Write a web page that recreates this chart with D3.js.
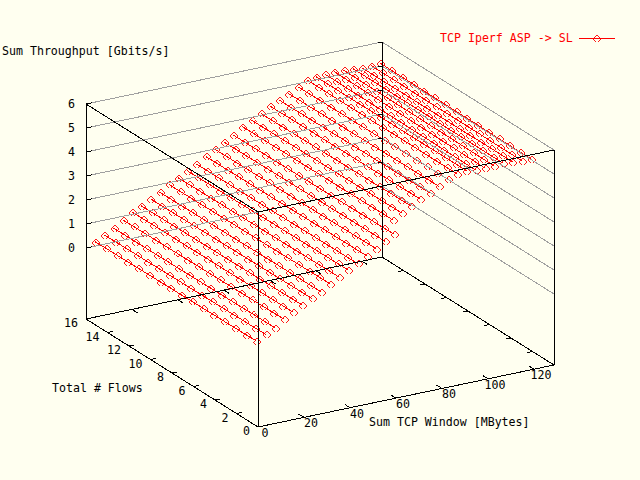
<!DOCTYPE html>
<html>
<head>
<meta charset="utf-8">
<title>TCP Iperf ASP -> SL</title>
<style>
  html, body { margin: 0; padding: 0; background: #fffff0; }
  text { font-family: "DejaVu Sans Mono", monospace; font-size: 11.6px; fill: #000; }
</style>
</head>
<body>
<script src="https://d3js.org/d3.v7.min.js"></script>
<script>
var windowTicks = [0, 20, 40, 60, 80, 100, 120];
var flowTicks = [0, 2, 4, 6, 8, 10, 12, 14, 16];
var rateTicks = [0, 1, 2, 3, 4, 5, 6];
var flows = [1, 2, 3, 4, 5, 6, 7, 8, 9, 10, 11, 12, 13, 14, 15, 16];
var windows = [4, 8, 12, 16, 20, 24, 28, 32, 36, 40, 44, 48, 52, 56, 60, 64,
               68, 72, 76, 80, 84, 88, 92, 96, 100, 104, 108, 112, 116, 120, 124, 128];

// one row per window size, one value per flow count (null = no sample)
var throughput = [
  [0.26,0.25,0.25,0.24,0.24,0.23,0.23,0.22,0.22,0.21,0.21,0.20,0.20,0.19,0.19,0.18],
  [0.46,0.45,0.45,0.44,0.44,0.43,0.43,0.42,0.42,0.41,0.41,0.40,0.40,0.39,0.39,0.38],
  [0.66,0.65,0.65,0.64,0.64,0.63,0.63,0.62,0.62,0.61,0.61,0.60,0.60,0.59,0.59,0.58],
  [0.93,0.92,0.92,0.91,0.91,0.90,0.90,0.89,0.89,0.88,0.88,0.87,0.87,0.86,0.86,0.85],
  [1.14,1.14,1.13,1.13,1.13,1.13,1.12,1.12,1.12,1.12,1.11,1.11,1.11,1.11,1.10,1.10],
  [1.35,1.35,1.34,1.34,1.33,1.33,1.32,1.32,1.31,1.31,1.30,1.30,1.29,1.29,1.28,1.28],
  [1.56,1.56,1.55,1.55,1.54,1.54,1.53,1.53,1.52,1.52,1.51,1.51,1.50,1.50,1.49,1.49],
  [1.76,1.75,1.75,1.74,1.74,1.73,1.73,1.72,1.72,1.71,1.71,1.70,1.70,1.69,1.69,1.68],
  [2.00,2.00,1.99,1.99,1.98,1.98,1.97,1.97,1.96,1.96,1.95,1.95,1.94,1.94,1.93,1.93],
  [2.20,2.20,2.19,2.19,2.18,2.18,2.17,2.17,2.16,2.16,2.15,2.15,2.14,2.14,2.13,2.13],
  [2.41,2.41,2.40,2.40,2.39,2.39,2.38,2.38,2.37,2.37,2.36,2.36,2.35,2.35,2.34,2.34],
  [2.61,2.60,2.60,2.59,2.59,2.58,2.58,2.57,2.57,2.56,2.56,2.55,2.55,2.54,2.54,2.53],
  [2.85,2.84,2.84,2.83,2.83,2.82,2.82,2.81,2.81,2.80,2.80,2.79,2.79,2.78,2.78,2.77],
  [3.07,3.06,3.06,3.05,3.05,3.04,3.04,3.03,3.03,3.02,3.02,3.01,3.01,3.00,3.00,2.99],
  [3.29,3.28,3.28,3.27,3.27,3.26,3.26,3.25,3.25,3.24,3.24,3.23,3.23,3.22,3.22,3.21],
  [3.50,3.49,3.49,3.48,3.48,3.47,3.47,3.46,3.46,3.45,3.45,3.44,3.44,3.43,3.43,3.42],
  [null,3.74,3.74,3.73,3.73,3.73,3.72,3.72,3.72,3.71,3.71,3.71,3.70,3.70,3.70,3.69],
  [null,3.94,3.94,3.93,3.93,3.92,3.92,3.91,3.91,3.91,3.90,3.90,3.89,3.89,3.88,3.88],
  [null,4.16,4.15,4.15,4.14,4.13,4.13,4.12,4.12,4.11,4.11,4.10,4.10,4.09,4.09,4.08],
  [null,4.36,4.36,4.35,4.35,4.35,4.34,4.34,4.34,4.33,4.33,4.33,4.32,4.32,4.31,4.31],
  [null,4.55,4.54,4.54,4.53,4.53,4.52,4.52,4.51,4.51,4.50,4.50,4.49,4.49,4.48,4.48],
  [null,4.74,4.74,4.73,4.73,4.72,4.72,4.71,4.71,4.70,4.70,4.69,4.69,4.68,4.68,4.67],
  [null,4.95,4.94,4.94,4.93,4.93,4.92,4.92,4.91,4.91,4.90,4.90,4.89,4.89,4.88,4.88],
  [null,5.09,5.09,5.09,5.09,5.09,5.09,5.09,5.08,5.08,5.08,5.08,5.08,5.08,5.08,5.08],
  [null,5.15,5.15,5.15,5.15,5.14,5.14,5.14,5.14,5.14,5.14,5.13,5.13,5.13,5.13,5.13],
  [null,5.10,5.10,5.11,5.11,5.12,5.12,5.12,5.13,5.13,5.13,5.14,5.14,5.14,5.15,5.15],
  [null,5.10,5.11,5.11,5.12,5.12,5.13,5.14,5.14,5.15,5.15,5.16,5.16,5.17,5.17,5.18],
  [null,5.11,5.11,5.12,5.12,5.13,5.13,5.13,5.14,5.14,5.14,5.15,5.15,5.15,5.16,5.16],
  [null,5.14,5.14,5.14,5.14,5.14,5.14,5.14,5.15,5.15,5.15,5.15,5.15,5.15,5.15,5.15],
  [null,5.12,5.12,5.12,5.12,5.11,5.11,5.11,5.11,5.11,5.11,5.11,5.10,5.10,5.10,5.10],
  [null,5.09,5.09,5.09,5.09,5.10,5.10,5.10,5.10,5.10,5.10,5.10,5.11,5.11,5.11,5.11],
  [null,5.08,5.08,5.09,5.09,5.09,5.10,5.10,5.10,5.11,5.11,5.11,5.12,5.12,5.12,5.13]
];

var w = 640, h = 480;
var xMax = 128.7, yMax = 16, zMin = -2.958, zMax = 6;

var svg = d3.select("body").append("svg")
  .attr("width", w).attr("height", h)
  .style("display", "block")
  .style("background", "#fffff0");

// the three data axes each move the point along their own screen direction
var xToX = d3.scaleLinear().domain([0, xMax]).range([0, 296]);
var xToY = d3.scaleLinear().domain([0, xMax]).range([0, -62]);
var yToX = d3.scaleLinear().domain([0, yMax]).range([0, -172]);
var yToY = d3.scaleLinear().domain([0, yMax]).range([0, -108]);
var zToY = d3.scaleLinear().domain([zMin, zMax]).range([0, -215]);

function px(x, y) { return 258 + xToX(x) + yToX(y); }
function py(x, y, z) { return 427 + xToY(x) + yToY(y) + zToY(z); }

function seg(g, a, b, colour) {
  g.append("line")
    .attr("x1", px(a[0], a[1])).attr("y1", py(a[0], a[1], a[2]))
    .attr("x2", px(b[0], b[1])).attr("y2", py(b[0], b[1], b[2]))
    .attr("stroke", colour).attr("stroke-width", 1)
    .attr("shape-rendering", "crispEdges");
}

// one red line per window size
var line = d3.line()
  .defined(function(d) { return d.z !== null; })
  .x(function(d) { return px(d.x, d.y); })
  .y(function(d) { return py(d.x, d.y, d.z); });

var plot = svg.append("g");
var diamond = "M0,-3.5L3.5,0L0,3.5L-3.5,0Z";

windows.forEach(function(win, i) {
  var pts = flows.map(function(f, j) { return { x: win, y: f, z: throughput[i][j] }; });
  plot.append("path")
    .attr("d", line(pts))
    .attr("fill", "none").attr("stroke", "#ff0000")
    .attr("shape-rendering", "crispEdges");
  plot.selectAll(null)
    .data(pts.filter(function(d) { return d.z !== null; }))
    .enter().append("path")
    .attr("d", diamond)
    .attr("transform", function(d) {
      return "translate(" + (Math.round(px(d.x, d.y)) + 0.5) + "," + (Math.round(py(d.x, d.y, d.z)) + 0.5) + ")";
    })
    .attr("fill", "none").attr("stroke", "#ff0000").attr("stroke-width", 0.9)
    .attr("shape-rendering", "crispEdges");
});

// grey grid on the two back walls, it sits over the surface in the original
var grid = svg.append("g");
rateTicks.forEach(function(z) {
  seg(grid, [0, yMax, z], [xMax, yMax, z], "#a0a0a0");
  seg(grid, [xMax, yMax, z], [xMax, 0, z], "#a0a0a0");
});

// black box
var box = svg.append("g");
seg(box, [0, 0, zMin], [xMax, 0, zMin], "#000");
seg(box, [0, 0, zMin], [0, yMax, zMin], "#000");
seg(box, [xMax, 0, zMin], [xMax, yMax, zMin], "#000");
seg(box, [0, yMax, zMin], [xMax, yMax, zMin], "#000");
seg(box, [0, yMax, zMax], [0, 0, zMax], "#000");
seg(box, [0, 0, zMax], [xMax, 0, zMax], "#000");
[[0, 0], [xMax, 0], [0, yMax], [xMax, yMax]].forEach(function(c) {
  seg(box, [c[0], c[1], zMin], [c[0], c[1], zMax], "#000");
});

// ticks
windowTicks.forEach(function(x) {
  seg(box, [x, 0, zMin], [x, 0.5, zMin], "#000");
  seg(box, [x, yMax, zMin], [x, yMax - 0.5, zMin], "#000");
});
flowTicks.forEach(function(y) {
  seg(box, [0, y, zMin], [2.2, y, zMin], "#000");
  seg(box, [xMax, y, zMin], [xMax - 2.2, y, zMin], "#000");
});
rateTicks.forEach(function(z) {
  seg(box, [0, yMax, z], [2.5, yMax, z], "#000");
  seg(box, [xMax, yMax, z], [xMax - 1.5, yMax, z], "#000");
});

// tick labels
svg.append("g").selectAll("text").data(windowTicks).enter().append("text")
  .attr("x", function(d) { return px(d, 0) + 7; })
  .attr("y", function(d) { return py(d, 0, zMin) + 10; })
  .attr("text-anchor", "middle").text(function(d) { return d; });
svg.append("g").selectAll("text").data(flowTicks).enter().append("text")
  .attr("x", function(d) { return px(0, d) - 8; })
  .attr("y", function(d) { return py(0, d, zMin) + 8; })
  .attr("text-anchor", "end").text(function(d) { return d; });
svg.append("g").selectAll("text").data(rateTicks).enter().append("text")
  .attr("x", 75)
  .attr("y", function(d) { return py(0, yMax, d) + 4; })
  .attr("text-anchor", "end").text(function(d) { return d; });

// axis titles
svg.append("text").attr("x", 2).attr("y", 55).text("Sum Throughput [Gbits/s]");
svg.append("text").attr("x", 52).attr("y", 392).text("Total # Flows");
svg.append("text").attr("x", 369).attr("y", 426).text("Sum TCP Window [MBytes]");

// key
svg.append("text").attr("x", 440).attr("y", 42).style("fill", "#ff0000").text("TCP Iperf ASP -> SL");
svg.append("line")
  .attr("x1", 579).attr("x2", 615).attr("y1", 38.5).attr("y2", 38.5)
  .attr("stroke", "#ff0000").attr("shape-rendering", "crispEdges");
svg.append("path").attr("d", diamond)
  .attr("transform", "translate(596.5,38.5)")
  .attr("fill", "none").attr("stroke", "#ff0000").attr("stroke-width", 0.9)
  .attr("shape-rendering", "crispEdges");
</script>
</body>
</html>
